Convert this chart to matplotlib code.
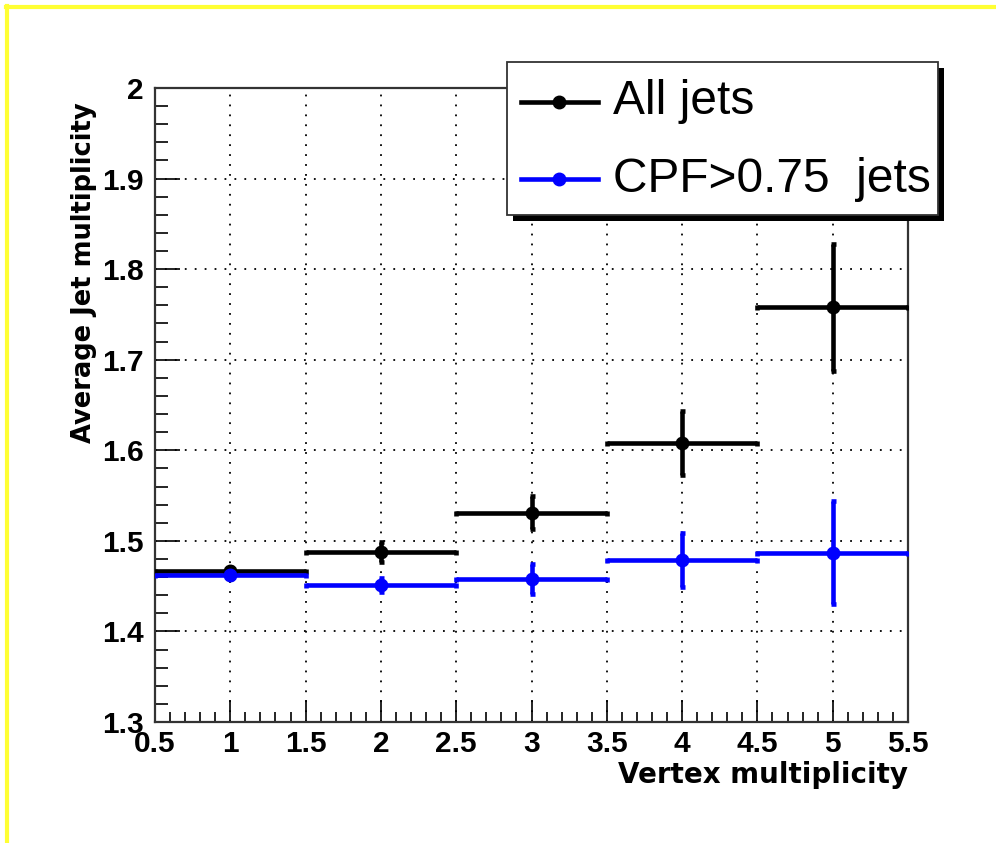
import matplotlib
matplotlib.use("Agg")
import matplotlib.pyplot as plt
from matplotlib.lines import Line2D
from matplotlib.patches import Rectangle
from matplotlib.ticker import MultipleLocator, FormatStrFormatter

plt.rcParams['font.family'] = ['Liberation Sans', 'DejaVu Sans']

# Binned averages vs. number of reconstructed vertices
vertex_mult = [1, 2, 3, 4, 5]
bin_halfwidth = [0.5, 0.5, 0.5, 0.5, 0.5]

all_jets = [1.467, 1.488, 1.531, 1.608, 1.758]
all_jets_err = [0.004, 0.011, 0.018, 0.035, 0.070]

cpf_jets = [1.462, 1.451, 1.458, 1.479, 1.487]
cpf_jets_err = [0.004, 0.008, 0.017, 0.030, 0.057]

series_labels = ["All jets", "CPF>0.75  jets"]
series_colors = ["black", "#0000ff"]

W, H = 996, 843
fig = plt.figure(figsize=(W / 100, H / 100), dpi=100)
ax = fig.add_axes([155 / W, 1 - 722 / H, (908 - 155) / W, (722 - 88) / H])

for y, e, c in [(all_jets, all_jets_err, series_colors[0]),
                (cpf_jets, cpf_jets_err, series_colors[1])]:
    ax.errorbar(vertex_mult, y, xerr=bin_halfwidth, yerr=e, fmt='o', color=c,
                ms=9, elinewidth=3.3, capsize=1.8, capthick=3.3, zorder=3)

ax.set_xlim(0.5, 5.5)
ax.set_ylim(1.3, 2.0)
ax.xaxis.set_major_locator(MultipleLocator(0.5))
ax.xaxis.set_minor_locator(MultipleLocator(0.1))
ax.yaxis.set_major_locator(MultipleLocator(0.1))
ax.yaxis.set_minor_locator(MultipleLocator(0.02))
ax.xaxis.set_major_formatter(FormatStrFormatter('%g'))
ax.yaxis.set_major_formatter(FormatStrFormatter('%g'))

ax.grid(True, which='major', color='black', linestyle=(0, (1, 4.5)), linewidth=1.3)
ax.tick_params(axis='x', which='major', direction='in', length=16, width=1.2,
               labelsize=21.5, pad=6, top=False)
ax.tick_params(axis='x', which='minor', direction='in', length=7, width=1.2, top=False)
ax.tick_params(axis='y', which='major', direction='in', length=18, width=1.2,
               labelsize=21.5, pad=8, right=False)
ax.tick_params(axis='y', which='minor', direction='in', length=9, width=1.2, right=False)
for lab in ax.get_xticklabels() + ax.get_yticklabels():
    lab.set_fontweight('bold')
for s in ax.spines.values():
    s.set_color('#333333')
    s.set_linewidth(1.6)

ax.set_xlabel("Vertex multiplicity", fontsize=20, fontweight='bold', loc='right',
              family=['DejaVu Sans'])
ax.xaxis.set_label_coords(1.0, -0.062)
ax.set_ylabel("Average Jet multiplicity", fontsize=18.5, fontweight='bold', loc='top',
              family=['DejaVu Sans'])
ax.yaxis.set_label_coords(-0.077, 0.978)

# Legend box with drop shadow
lx0, lx1, ly0, ly1 = 507, 938, 62, 215
sh = 6
fig.add_artist(Rectangle(((lx0 + sh) / W, 1 - (ly1 + sh) / H), (lx1 - lx0) / W,
                         (ly1 - ly0) / H, transform=fig.transFigure,
                         facecolor='black', edgecolor='none', zorder=10))
fig.add_artist(Rectangle((lx0 / W, 1 - ly1 / H), (lx1 - lx0) / W, (ly1 - ly0) / H,
                         transform=fig.transFigure, facecolor='white',
                         edgecolor='#333333', linewidth=1.3, zorder=11))
for row_y, lab, c in zip([102, 179], series_labels, series_colors):
    yf = 1 - row_y / H
    fig.add_artist(Line2D([521 / W, 598 / W], [yf, yf], transform=fig.transFigure,
                          color=c, lw=3.3, zorder=12))
    fig.add_artist(Line2D([559 / W], [yf], transform=fig.transFigure, marker='o',
                          ms=9, color=c, zorder=12))
    fig.text(613 / W, yf, lab, fontsize=34.5, va='center', ha='left',
             family=['Liberation Sans', 'DejaVu Sans'], zorder=12)

# Frame lines along the top and left edges
fig.add_artist(Line2D([6 / W, 1], [1 - 7 / H, 1 - 7 / H], transform=fig.transFigure,
                      color='#ffff33', lw=3))
fig.add_artist(Line2D([7 / W, 7 / W], [0, 1 - 6 / H], transform=fig.transFigure,
                      color='#ffff33', lw=3))

fig.savefig("out.png", dpi=100)
